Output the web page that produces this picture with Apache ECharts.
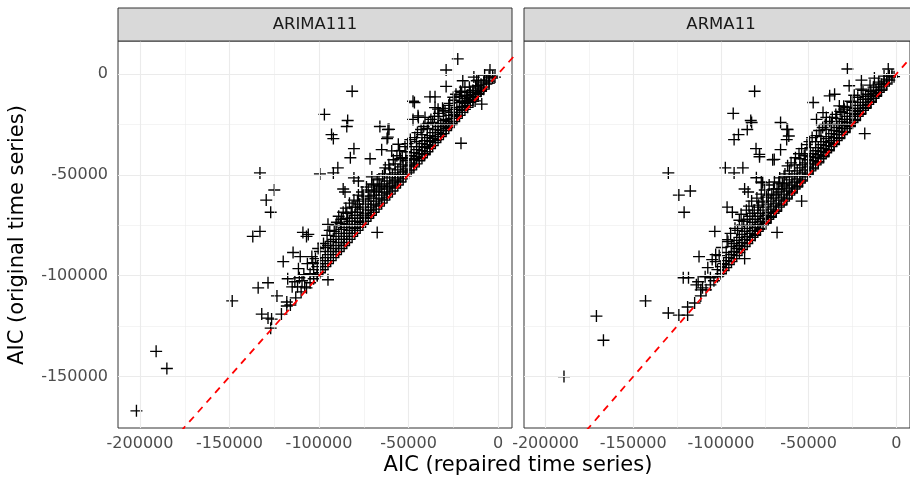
<!DOCTYPE html>
<html>
<head>
<meta charset="utf-8">
<script src="https://cdn.jsdelivr.net/npm/echarts@6/dist/echarts.min.js"></script>
<style>
  html, body { margin: 0; padding: 0; background: #fff; }
  #chart { width: 910px; height: 481px; }
</style>
</head>
<body>
<div id="chart"></div>
<script>
// Facet names
const panels = ['ARIMA111', 'ARMA11'];

// Breaks
const xTicks = [-200000, -150000, -100000, -50000, 0];
const yTicks = [0, -50000, -100000, -150000];
const xMinor = [-175000, -125000, -75000, -25000];
const yMinor = [-25000, -75000, -125000];

// y = x reference
const refLine = [[-240000, -240000], [30000, 30000]];

// ARIMA111: [AIC repaired, AIC original]
const arima111 = [
  [-22500,7500],[-29000,2000],[-4500,2000],[-1700,-1500],[-19700,-3300],[-11900,-3300],[-11200,-5800],
  [-29000,-6100],[-23500,-10000],[-20300,-9100],[-17500,-10800],[-38000,-11300],[-35200,-11300],
  [-46700,-14100],[-12800,-13300],[-9100,-14900],[-35200,-16600],[-33500,-17400],[-29600,-18300],
  [-44700,-20700],[-40800,-21500],[-20700,-34300],[-60900,-27400],[-61600,-31300],[-59400,-38100],[-55700,-34800],
  [-81500,-8500],[-47500,-13500],[-97000,-20000],[-84000,-23000],[-84500,-26000],[-93000,-30000],[-92000,-32000],
  [-66000,-26000],[-61500,-27500],[-62000,-32000],[-47500,-22500],[-44500,-21500],[-80500,-37000],[-82500,-41500],
  [-65000,-37500],[-71500,-42000],[-89500,-46500],[-92000,-49000],[-99500,-49500],[-133000,-49000],[-125000,-57500],
  [-129500,-62500],[-127000,-68500],[-133000,-78000],[-137000,-80500],[-80500,-51500],[-78000,-53000],[-70500,-51000],
  [-86500,-57000],[-85500,-58500],[-67500,-78500],[-109000,-78500],[-107000,-80500],[-95000,-74500],[-106000,-79500],
  [-120000,-93000],[-114500,-88500],[-110500,-90500],[-111500,-96500],[-103500,-93500],[-98000,-97000],[-101000,-99500],
  [-95000,-102000],[-134000,-106000],[-128500,-103500],[-123500,-110000],[-117500,-101500],[-115000,-105500],
  [-112000,-105500],[-108000,-105500],[-118000,-113000],[-118000,-115000],[-148500,-112500],[-132000,-119000],
  [-128500,-121000],[-126500,-121500],[-127000,-126000],[-191000,-137500],[-185000,-146000],[-202000,-167000],
  [-97500,-84000],[-95500,-80000],[-94000,-77500],[-91500,-78000],[-90000,-73500],[-89000,-70500],[-88000,-74000],
  [-86500,-68500],[-85000,-66500],[-84000,-71500],[-83000,-64000],[-82000,-68500],[-80500,-62500],[-79500,-66000],
  [-78000,-60000],[-77500,-64500],[-76000,-58500],[-75000,-62000],[-73500,-56000],[-72000,-60500],[-70500,-54500],
  [-69000,-58000],[-67500,-52500],[-66000,-55500],[-64500,-50500],[-63000,-46500],[-61000,-45000],[-58500,-42500],
  [-56500,-40500],[-55000,-38000],[-53500,-41500],[-52000,-36000],[-50500,-34500],[-49000,-32500],[-46500,-31500],
  [-45000,-29000],[-43000,-27500],[-41500,-26000],[-39000,-24500],[-37500,-22500],[-35500,-21000],[-33000,-19500],
  [-31000,-17000],[-27000,-14500],[-25000,-11500],[-21000,-8500],[-16000,-6500],[-13500,-1500],[-7500,-500],
  [-104000,-90500],[-106500,-94000],[-108500,-99500],[-102000,-91500],[-100500,-86500],[-111000,-101000],
  [-113500,-103000],[-109500,-102500],
  [-3000,-2000],[-3000,-1000],[-5000,-3500],[-5000,-1500],[-5000,-4500],[-6500,-5000],[-6500,-3000],[-8000,-6500],
  [-8000,-4000],[-8000,-7500],[-9500,-8000],[-9500,-5000],[-9500,-8500],[-11000,-9500],[-11000,-7000],[-11000,-10000],
  [-11000,-3000],[-12500,-11000],[-12500,-9000],[-12500,-6000],[-14000,-12500],[-14000,-10000],[-14000,-13500],
  [-14000,-8000],[-15500,-14000],[-15500,-11500],[-15500,-9000],[-17000,-15500],[-17000,-13000],[-17000,-16500],
  [-17000,-10500],[-18500,-17500],[-18500,-14500],[-18500,-12000],[-18500,-6500],[-20000,-19000],[-20000,-16000],
  [-20000,-13500],[-20000,-18000],[-21500,-20500],[-21500,-17500],[-21500,-14000],[-21500,-11000],[-23000,-22000],
  [-23000,-19000],[-23000,-16500],[-23000,-21000],[-24500,-23500],[-24500,-20000],[-24500,-17500],[-24500,-13000],
  [-26000,-25000],[-26000,-22000],[-26000,-19000],[-26000,-24500],[-27500,-26500],[-27500,-23500],[-27500,-20500],
  [-27500,-15500],[-29000,-28000],[-29000,-25000],[-29000,-22500],[-29000,-27000],[-30500,-29500],[-30500,-26000],
  [-30500,-23000],[-30500,-18000],[-32000,-31000],[-32000,-28000],[-32000,-24500],[-32000,-30000],[-33500,-32500],
  [-33500,-29000],[-33500,-26000],[-33500,-21000],[-35000,-34000],[-35000,-31000],[-35000,-27500],[-35000,-33000],
  [-36500,-35500],[-36500,-32000],[-36500,-29000],[-36500,-24000],[-38000,-37000],[-38000,-33500],[-38000,-30500],
  [-38000,-36000],[-39500,-38500],[-39500,-35000],[-39500,-31500],[-39500,-27000],[-41000,-40000],[-41000,-36500],
  [-41000,-33000],[-41000,-39500],[-42500,-41500],[-42500,-38000],[-42500,-34500],[-42500,-30000],[-44000,-43000],
  [-44000,-39500],[-44000,-36000],[-44000,-42000],[-45500,-44500],[-45500,-41000],[-45500,-37500],[-45500,-33500],
  [-47000,-46000],[-47000,-42500],[-47000,-39000],[-47000,-45000],[-48500,-47500],[-48500,-44000],[-48500,-40500],
  [-48500,-36000],[-50000,-49000],[-50000,-45500],[-50000,-42000],[-50000,-48000],[-51500,-50500],[-51500,-47000],
  [-51500,-43000],[-51500,-38500],[-53000,-52000],[-53000,-48500],[-53000,-45000],[-53000,-50000],[-54500,-53500],
  [-54500,-50000],[-54500,-46000],[-54500,-42000],[-56000,-55000],[-56000,-51500],[-56000,-47500],[-56000,-53000],
  [-57500,-56500],[-57500,-52500],[-57500,-49000],[-57500,-44500],[-59000,-58000],[-59000,-54000],[-59000,-50000],
  [-59000,-56000],[-60500,-59500],[-60500,-55500],[-60500,-51500],[-60500,-47000],[-62000,-61000],[-62000,-57000],
  [-62000,-53000],[-62000,-59000],[-63500,-62500],[-63500,-58500],[-63500,-54500],[-63500,-49500],[-65000,-64000],
  [-65000,-60000],[-65000,-56000],[-65000,-62000],[-66500,-65500],[-66500,-61500],[-66500,-57000],[-66500,-52000],
  [-68000,-67000],[-68000,-63000],[-68000,-58500],[-68000,-65000],[-69500,-68500],[-69500,-64500],[-69500,-60000],
  [-69500,-55000],[-71000,-70000],[-71000,-66000],[-71000,-61500],[-71000,-67500],[-72500,-71500],[-72500,-67500],
  [-72500,-63000],[-72500,-57500],[-74000,-73000],[-74000,-69000],[-74000,-64500],[-74000,-71000],[-75500,-74500],
  [-75500,-70000],[-75500,-66000],[-75500,-60500],[-77000,-76000],[-77000,-71500],[-77000,-67000],[-77000,-73500],
  [-78500,-77500],[-78500,-73000],[-78500,-68500],[-78500,-63000],[-80000,-79000],[-80000,-74500],[-80000,-70000],
  [-80000,-76500],[-81500,-80500],[-81500,-76000],[-81500,-71500],[-81500,-66000],[-83000,-82000],[-83000,-77500],
  [-83000,-73000],[-83000,-79000],[-84500,-83500],[-84500,-79000],[-84500,-74500],[-84500,-69000],[-86000,-85000],
  [-86000,-80500],[-86000,-76000],[-86000,-82000],[-87500,-86500],[-87500,-82000],[-87500,-77000],[-87500,-72000],
  [-89000,-88000],[-89000,-83500],[-89000,-79000],[-90500,-89500],[-90500,-85000],[-90500,-80500],[-90500,-75000],
  [-92000,-91000],[-92000,-86500],[-92000,-82000],[-93500,-92500],[-93500,-88000],[-93500,-83000],[-95000,-94000],
  [-95000,-89500],[-95000,-85000],[-96500,-95500],[-96500,-91000],[-96500,-86000],[-98000,-97000],[-98000,-92500],
  [-99500,-98500],[-99500,-94000],[-99500,-88000],[-101000,-100000],[-101000,-95500],[-103000,-101500],[-103000,-97000],
  [-105000,-103500],[-105000,-99000],[-107000,-106000],[-110000,-108000],[-113000,-111000],[-116000,-114500],
  [-121000,-119000]
];

// ARMA11: [AIC repaired, AIC original]
const arma11 = [
  [-27900,2500],[-4600,2500],[-1300,-1300],[-19900,-3000],[-26900,-5800],[-10200,-5000],[-38000,-10800],
  [-35200,-10000],[-47400,-14100],[-32500,-15800],[-29700,-17400],[-41800,-19100],[-39900,-21500],[-18000,-29500],
  [-62400,-27400],[-61300,-30700],[-80800,-8500],[-93000,-19500],[-83000,-23000],[-82500,-24000],[-85000,-27500],
  [-66000,-24000],[-62000,-27500],[-62500,-32500],[-90000,-30000],[-92500,-32500],[-45500,-22500],[-80000,-37000],
  [-78000,-41000],[-66000,-37500],[-70500,-42500],[-97500,-46500],[-92500,-49000],[-87500,-46500],[-130000,-49000],
  [-124000,-60000],[-117500,-58000],[-121000,-68500],[-54000,-63000],[-68000,-78500],[-103500,-78000],[-96500,-66000],
  [-93500,-68500],[-86500,-57000],[-84500,-58500],[-77000,-53500],[-79800,-51400],[-76200,-53900],[-96500,-82100],
  [-69600,-42300],[-78000,-39800],[-112500,-90500],[-103000,-89500],[-103000,-93000],[-97000,-94500],[-86500,-91500],
  [-121500,-101000],[-118500,-101000],[-113000,-103000],[-110500,-106000],[-111500,-107000],[-143000,-112500],
  [-130000,-118500],[-124000,-119500],[-119000,-115500],[-119000,-119500],[-171000,-120000],[-167000,-132000],
  [-189500,-150000],
  [-96000,-83000],[-94500,-79000],[-92000,-76500],[-90500,-77500],[-89500,-72500],[-88500,-69500],[-87000,-73000],
  [-85500,-67500],[-84000,-65500],[-83500,-70500],[-82500,-63000],[-81000,-67500],[-79500,-61500],[-78500,-65000],
  [-77000,-59500],[-76500,-63500],[-75000,-57500],[-74000,-61000],[-72500,-55000],[-71000,-59500],[-69500,-53500],
  [-68000,-57000],[-66500,-51500],[-65000,-54500],[-63500,-49500],[-62000,-45500],[-60000,-44000],[-57500,-41500],
  [-55500,-39500],[-54000,-37000],[-52500,-40500],[-51000,-35000],[-49500,-33500],[-48000,-31500],[-45500,-30500],
  [-44000,-28000],[-42000,-26500],[-40500,-25000],[-38000,-23500],[-36500,-21500],[-34500,-20000],[-32000,-18500],
  [-30000,-16000],[-26000,-13500],[-24000,-10500],[-20000,-7500],[-15000,-5500],[-12500,-2000],[-7000,-1000],
  [-105000,-92000],[-107500,-96000],[-101000,-90000],[-99500,-86000],[-109000,-100500],[-114000,-104500],
  [-2500,-1500],[-2500,-500],[-4000,-3000],[-4000,-1000],[-5500,-4500],[-5500,-2500],[-5500,-5000],[-7000,-6000],
  [-7000,-3500],[-8500,-7500],[-8500,-5000],[-8500,-8000],[-10000,-9000],[-10000,-6500],[-10000,-4000],[-11500,-10500],
  [-11500,-8000],[-11500,-11000],[-13000,-12000],[-13000,-9500],[-13000,-6500],[-14500,-13500],[-14500,-11000],
  [-14500,-14000],[-14500,-8500],[-16000,-15000],[-16000,-12500],[-16000,-10000],[-17500,-16500],[-17500,-14000],
  [-17500,-17000],[-17500,-11000],[-19000,-18000],[-19000,-15500],[-19000,-12500],[-19000,-8000],[-20500,-19500],
  [-20500,-17000],[-20500,-14000],[-20500,-20000],[-22000,-21000],[-22000,-18500],[-22000,-15500],[-22000,-11500],
  [-23500,-22500],[-23500,-20000],[-23500,-17000],[-23500,-23000],[-25000,-24000],[-25000,-21000],[-25000,-18000],
  [-25000,-14000],[-26500,-25500],[-26500,-22500],[-26500,-19500],[-26500,-26000],[-28000,-27000],[-28000,-24000],
  [-28000,-21000],[-28000,-16500],[-29500,-28500],[-29500,-25500],[-29500,-22500],[-29500,-29000],[-31000,-30000],
  [-31000,-27000],[-31000,-23500],[-31000,-19000],[-32500,-31500],[-32500,-28500],[-32500,-25000],[-32500,-32000],
  [-34000,-33000],[-34000,-30000],[-34000,-26500],[-34000,-22000],[-35500,-34500],[-35500,-31500],[-35500,-28000],
  [-35500,-35000],[-37000,-36000],[-37000,-33000],[-37000,-29500],[-37000,-25000],[-38500,-37500],[-38500,-34000],
  [-38500,-31000],[-38500,-38000],[-40000,-39000],[-40000,-35500],[-40000,-32000],[-40000,-27500],[-41500,-40500],
  [-41500,-37000],[-41500,-33500],[-41500,-41000],[-43000,-42000],[-43000,-38500],[-43000,-35000],[-43000,-31000],
  [-44500,-43500],[-44500,-40000],[-44500,-36500],[-44500,-44000],[-46000,-45000],[-46000,-41500],[-46000,-38000],
  [-46000,-33500],[-47500,-46500],[-47500,-43000],[-47500,-39500],[-47500,-47000],[-49000,-48000],[-49000,-44500],
  [-49000,-41000],[-49000,-36500],[-50500,-49500],[-50500,-46000],[-50500,-42500],[-50500,-50000],[-52000,-51000],
  [-52000,-47500],[-52000,-44000],[-52000,-39500],[-53500,-52500],[-53500,-49000],[-53500,-45000],[-53500,-53000],
  [-55000,-54000],[-55000,-50500],[-55000,-46500],[-55000,-42000],[-56500,-55500],[-56500,-52000],[-56500,-48000],
  [-56500,-56000],[-58000,-57000],[-58000,-53500],[-58000,-49500],[-58000,-45000],[-59500,-58500],[-59500,-55000],
  [-59500,-51000],[-59500,-59000],[-61000,-60000],[-61000,-56500],[-61000,-52500],[-61000,-48000],[-62500,-61500],
  [-62500,-58000],[-62500,-54000],[-62500,-62000],[-64000,-63000],[-64000,-59500],[-64000,-55500],[-64000,-51000],
  [-65500,-64500],[-65500,-61000],[-65500,-57000],[-65500,-65000],[-67000,-66000],[-67000,-62500],[-67000,-58500],
  [-67000,-54000],[-68500,-67500],[-68500,-64000],[-68500,-60000],[-68500,-68000],[-70000,-69000],[-70000,-65500],
  [-70000,-61500],[-70000,-57000],[-71500,-70500],[-71500,-67000],[-71500,-63000],[-71500,-71000],[-73000,-72000],
  [-73000,-68500],[-73000,-64500],[-73000,-60000],[-74500,-73500],[-74500,-70000],[-74500,-66000],[-74500,-74000],
  [-76000,-75000],[-76000,-71500],[-76000,-67500],[-76000,-63000],[-77500,-76500],[-77500,-73000],[-77500,-69000],
  [-77500,-77000],[-79000,-78000],[-79000,-74500],[-79000,-70500],[-79000,-66000],[-80500,-79500],[-80500,-76000],
  [-80500,-72000],[-80500,-80000],[-82000,-81000],[-82000,-77500],[-82000,-73500],[-82000,-69000],[-83500,-82500],
  [-83500,-79000],[-83500,-75000],[-85000,-84000],[-85000,-80500],[-85000,-76500],[-85000,-72000],[-86500,-85500],
  [-86500,-82000],[-86500,-78000],[-88000,-87000],[-88000,-83500],[-88000,-79500],[-88000,-75000],[-89500,-88500],
  [-89500,-85000],[-89500,-81000],[-91000,-90000],[-91000,-86500],[-91000,-82500],[-92500,-91500],[-92500,-88000],
  [-92500,-84000],[-94000,-93000],[-94000,-89500],[-94000,-85500],[-95500,-94500],[-95500,-91000],[-97000,-96000],
  [-97000,-92500],[-97000,-88500],[-98500,-97500],[-98500,-94000],[-100000,-99000],[-100000,-95500],[-102000,-100500],
  [-102000,-97000],[-104000,-102500],[-106000,-104500],[-106000,-101000],[-108500,-107000],[-111500,-110000],
  [-115000,-113500]
];

const panelData = [arima111, arma11];

// Panel geometry
const gridLeft = [118, 524];
const gridTop = 41;
const gridW = 394;
const gridH = 387;

const chart = echarts.init(document.getElementById('chart'), null, { renderer: 'canvas' });

const plus = 'path://M0,5L10,5M5,0L5,10';

function gridLines(i) {
  const major = { color: '#ebebeb', width: 1.1, type: 'solid' };
  const minor = { color: '#ebebeb', width: 0.55, type: 'solid' };
  const lines = [];
  xMinor.forEach(v => lines.push({ xAxis: v, lineStyle: minor }));
  yMinor.forEach(v => lines.push({ yAxis: v, lineStyle: minor }));
  xTicks.forEach(v => lines.push({ xAxis: v, lineStyle: major }));
  yTicks.forEach(v => lines.push({ yAxis: v, lineStyle: major }));
  return {
    type: 'scatter', xAxisIndex: i, yAxisIndex: i, data: [], silent: true, z: 0,
    markLine: {
      silent: true, animation: false, symbol: ['none', 'none'],
      label: { show: false }, data: lines
    }
  };
}

const grids = [], xAxes = [], yAxes = [], series = [], graphics = [];

panels.forEach((name, i) => {
  grids.push({
    left: gridLeft[i], top: gridTop, width: gridW, height: gridH,
    show: true, backgroundColor: '#fff', borderColor: '#333333', borderWidth: 1
  });
  xAxes.push({
    gridIndex: i, type: 'value', min: -212300, max: 7800,
    splitLine: { show: false }, axisLine: { show: false },
    axisTick: { show: true, customValues: xTicks, length: 5, lineStyle: { color: '#333333' } },
    axisLabel: {
      customValues: xTicks, color: '#4d4d4d', fontSize: 16, margin: 8,
      fontFamily: 'DejaVu Sans', formatter: v => String(v)
    }
  });
  yAxes.push({
    gridIndex: i, type: 'value', min: -175500, max: 16400,
    splitLine: { show: false }, axisLine: { show: false },
    axisTick: { show: i === 0, customValues: yTicks, length: 5, lineStyle: { color: '#333333' } },
    axisLabel: {
      show: i === 0, customValues: yTicks, color: '#4d4d4d', fontSize: 16, margin: 10,
      fontFamily: 'DejaVu Sans', formatter: v => String(v)
    }
  });
  series.push(gridLines(i));
  series.push({
    type: 'scatter', xAxisIndex: i, yAxisIndex: i, data: panelData[i],
    symbol: plus, symbolSize: 12,
    itemStyle: { color: 'rgba(0,0,0,0)', borderColor: '#000', borderWidth: 1.35, opacity: 1 },
    z: 4
  });
  series.push({
    type: 'line', xAxisIndex: i, yAxisIndex: i, data: refLine, symbol: 'none',
    lineStyle: { color: '#ff0000', width: 1.8, type: [7, 6] }, z: 6, silent: true
  });
  // Strip
  graphics.push({
    type: 'rect', shape: { x: gridLeft[i], y: 8, width: gridW, height: 33 },
    style: { fill: '#d9d9d9', stroke: '#333333', lineWidth: 1 }, z: 10
  });
  graphics.push({
    type: 'text', x: gridLeft[i] + gridW / 2, y: 25,
    style: { text: name, fill: '#1a1a1a', font: '16.5px "DejaVu Sans"', textAlign: 'center', textVerticalAlign: 'middle' },
    z: 11
  });
});

// Axis titles
graphics.push({
  type: 'text', x: 518, y: 466,
  style: { text: 'AIC (repaired time series)', fill: '#000', font: '21px "DejaVu Sans"', textAlign: 'center', textVerticalAlign: 'middle' }
});
graphics.push({
  type: 'text', x: 18, y: 235, rotation: Math.PI / 2,
  style: { text: 'AIC (original time series)', fill: '#000', font: '21px "DejaVu Sans"', textAlign: 'center', textVerticalAlign: 'middle' }
});

chart.setOption({
  animation: false,
  backgroundColor: '#fff',
  grid: grids,
  xAxis: xAxes,
  yAxis: yAxes,
  series: series,
  graphic: graphics
});
</script>
</body>
</html>
